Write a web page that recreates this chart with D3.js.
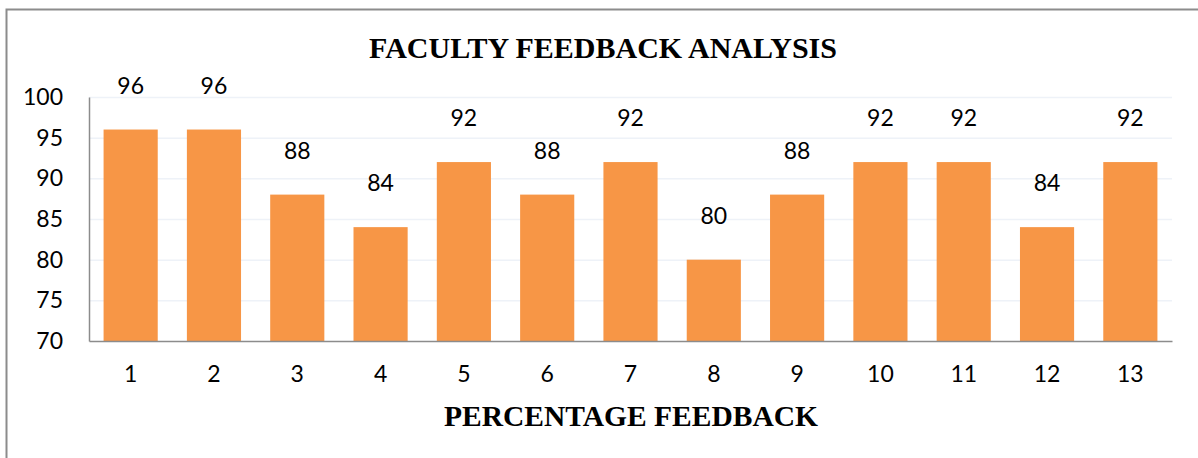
<!DOCTYPE html>
<html>
<head>
<meta charset="utf-8">
<script src="https://cdn.jsdelivr.net/npm/d3@7"></script>
<style>
  body { margin: 0; background: #fff; }
  svg { display: block; }
</style>
</head>
<body>
<div id="chart"></div>
<script>
var categories = ["1","2","3","4","5","6","7","8","9","10","11","12","13"];
var values = [96, 96, 88, 84, 92, 88, 92, 80, 88, 92, 92, 84, 92];
var yTicks = [70, 75, 80, 85, 90, 95, 100];

var width = 1198, height = 458;
var margin = {top: 97, right: 26, bottom: 117, left: 89};

var svg = d3.select("#chart").append("svg")
    .attr("width", width)
    .attr("height", height);

// outer frame (left and top visible)
svg.append("path")
    .attr("d", "M6.5,458 V9.5 H1198")
    .attr("fill", "none")
    .attr("stroke", "#8c8c8c")
    .attr("stroke-width", 2);

var x = d3.scaleBand()
    .domain(categories)
    .range([margin.left, width - margin.right])
    .paddingInner(0.35)
    .paddingOuter(0.175);

var y = d3.scaleLinear()
    .domain([70, 100])
    .range([height - margin.bottom, margin.top]);

var numFont = "Lato, 'Open Sans', sans-serif";
var titleFont = "'Liberation Serif', 'Times New Roman', serif";

// gridlines
svg.append("g").selectAll("line")
    .data(yTicks.slice(1))
    .join("line")
    .attr("x1", margin.left)
    .attr("x2", width - margin.right)
    .attr("y1", d => y(d) + 0.5)
    .attr("y2", d => y(d) + 0.5)
    .attr("stroke", "#eef2f8")
    .attr("stroke-width", 1.5);

// bars
svg.append("g").selectAll("rect")
    .data(values)
    .join("rect")
    .attr("x", (d, i) => x(categories[i]))
    .attr("width", x.bandwidth())
    .attr("y", d => y(d))
    .attr("height", d => y(70) - y(d))
    .attr("fill", "#f79646");

// value labels
svg.append("g").selectAll("text")
    .data(values)
    .join("text")
    .attr("x", (d, i) => x(categories[i]) + x.bandwidth() / 2)
    .attr("y", d => y(d) - 44)
    .attr("dy", "0.35em")
    .attr("text-anchor", "middle")
    .attr("font-family", numFont)
    .attr("font-size", 23)
    .attr("fill", "#000")
    .text(d => d);

// axes
var yAxis = svg.append("g")
    .attr("transform", "translate(" + margin.left + ",0)")
    .call(d3.axisLeft(y).tickValues(yTicks).tickSize(0).tickPadding(26));
yAxis.select(".domain").attr("stroke", "#8c8c8c").attr("stroke-width", 1.5);
yAxis.selectAll("text")
    .attr("font-family", numFont)
    .attr("font-size", 23)
    .attr("fill", "#000");

var xAxis = svg.append("g")
    .attr("transform", "translate(0," + (height - margin.bottom) + ")")
    .call(d3.axisBottom(x).tickSize(0).tickPadding(25));
xAxis.select(".domain").attr("stroke", "#8c8c8c").attr("stroke-width", 1.5);
xAxis.selectAll("text")
    .attr("font-family", numFont)
    .attr("font-size", 23)
    .attr("fill", "#000");

// titles
svg.append("text")
    .attr("x", 603)
    .attr("y", 58)
    .attr("text-anchor", "middle")
    .attr("font-family", titleFont)
    .attr("font-weight", "bold")
    .attr("font-size", 30)
    .text("FACULTY FEEDBACK ANALYSIS");

svg.append("text")
    .attr("x", 631)
    .attr("y", 426)
    .attr("text-anchor", "middle")
    .attr("font-family", titleFont)
    .attr("font-weight", "bold")
    .attr("font-size", 29.5)
    .text("PERCENTAGE FEEDBACK");
</script>
</body>
</html>
